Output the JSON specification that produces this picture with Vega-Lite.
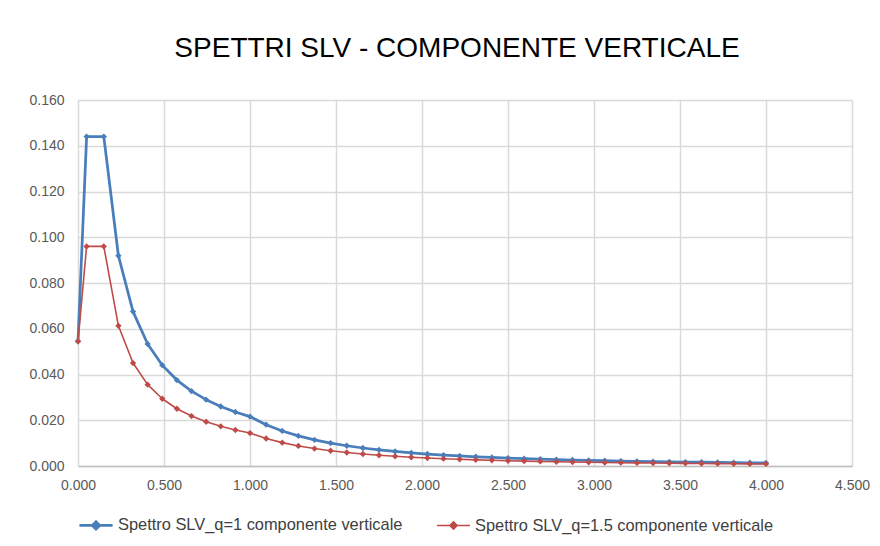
{
  "$schema": "https://vega.github.io/schema/vega-lite/v6.json",
  "width": 774,
  "height": 366,
  "autosize": {"type": "none"},
  "padding": {"left": 78, "top": 100, "right": 28, "bottom": 80},
  "background": "#ffffff",
  "title": {
    "text": "SPETTRI SLV - COMPONENTE VERTICALE",
    "font": "Liberation Sans",
    "fontSize": 28,
    "fontWeight": "normal",
    "color": "#000000",
    "anchor": "middle",
    "dx": -8,
    "offset": 30
  },
  "data": {
    "values": [
      {"T": 0, "q1": 0.0545, "q15": 0.0545},
      {"T": 0.05, "q1": 0.144, "q15": 0.096},
      {"T": 0.15, "q1": 0.144, "q15": 0.096},
      {"T": 0.235, "q1": 0.09191, "q15": 0.06128},
      {"T": 0.32, "q1": 0.0675, "q15": 0.045},
      {"T": 0.405, "q1": 0.05333, "q15": 0.03556},
      {"T": 0.49, "q1": 0.04408, "q15": 0.02939},
      {"T": 0.575, "q1": 0.03757, "q15": 0.02504},
      {"T": 0.66, "q1": 0.03273, "q15": 0.02182},
      {"T": 0.745, "q1": 0.02899, "q15": 0.01933},
      {"T": 0.83, "q1": 0.02602, "q15": 0.01735},
      {"T": 0.915, "q1": 0.02361, "q15": 0.01574},
      {"T": 1.0, "q1": 0.0216, "q15": 0.0144},
      {"T": 1.09375, "q1": 0.018056, "q15": 0.012037},
      {"T": 1.1875, "q1": 0.015317, "q15": 0.010212},
      {"T": 1.28125, "q1": 0.013158, "q15": 0.008772},
      {"T": 1.375, "q1": 0.011425, "q15": 0.007617},
      {"T": 1.46875, "q1": 0.010013, "q15": 0.006675},
      {"T": 1.5625, "q1": 0.008847, "q15": 0.005898},
      {"T": 1.65625, "q1": 0.007874, "q15": 0.005249},
      {"T": 1.75, "q1": 0.007053, "q15": 0.004702},
      {"T": 1.84375, "q1": 0.006354, "q15": 0.004236},
      {"T": 1.9375, "q1": 0.005754, "q15": 0.003836},
      {"T": 2.03125, "q1": 0.005235, "q15": 0.00349},
      {"T": 2.125, "q1": 0.004783, "q15": 0.003189},
      {"T": 2.21875, "q1": 0.004388, "q15": 0.002925},
      {"T": 2.3125, "q1": 0.004039, "q15": 0.002693},
      {"T": 2.40625, "q1": 0.003731, "q15": 0.002487},
      {"T": 2.5, "q1": 0.003456, "q15": 0.002304},
      {"T": 2.59375, "q1": 0.003211, "q15": 0.00214},
      {"T": 2.6875, "q1": 0.002991, "q15": 0.001994},
      {"T": 2.78125, "q1": 0.002792, "q15": 0.001862},
      {"T": 2.875, "q1": 0.002613, "q15": 0.001742},
      {"T": 2.96875, "q1": 0.002451, "q15": 0.001634},
      {"T": 3.0625, "q1": 0.002303, "q15": 0.001535},
      {"T": 3.15625, "q1": 0.002168, "q15": 0.001446},
      {"T": 3.25, "q1": 0.002045, "q15": 0.001363},
      {"T": 3.34375, "q1": 0.001932, "q15": 0.001288},
      {"T": 3.4375, "q1": 0.001828, "q15": 0.001219},
      {"T": 3.53125, "q1": 0.001732, "q15": 0.001155},
      {"T": 3.625, "q1": 0.001644, "q15": 0.001096},
      {"T": 3.71875, "q1": 0.001562, "q15": 0.001041},
      {"T": 3.8125, "q1": 0.001486, "q15": 0.000991},
      {"T": 3.90625, "q1": 0.001416, "q15": 0.000944},
      {"T": 4.0, "q1": 0.00135, "q15": 0.0009}
    ]
  },
  "transform": [{"fold": ["q1", "q15"], "as": ["serie", "Sa"]}],
  "mark": {
    "type": "line",
    "point": {"shape": "diamond", "size": 40, "filled": true},
    "strokeJoin": "round"
  },
  "encoding": {
    "x": {
      "field": "T",
      "type": "quantitative",
      "scale": {"domain": [0, 4.5], "nice": false},
      "axis": {
        "title": null,
        "values": [0, 0.5, 1, 1.5, 2, 2.5, 3, 3.5, 4, 4.5],
        "format": ".3f",
        "labelFont": "Liberation Sans",
        "labelFontSize": 14,
        "labelColor": "#595959",
        "labelPadding": 12,
        "ticks": false,
        "domainColor": "#bfbfbf",
        "domainWidth": 1.5,
        "gridColor": "#d9d9d9",
        "gridWidth": 1.5,
        "labelFlush": false
      }
    },
    "y": {
      "field": "Sa",
      "type": "quantitative",
      "scale": {"domain": [0, 0.16], "nice": false},
      "axis": {
        "title": null,
        "values": [0, 0.02, 0.04, 0.06, 0.08, 0.1, 0.12, 0.14, 0.16],
        "format": ".3f",
        "labelFont": "Liberation Sans",
        "labelFontSize": 14,
        "labelColor": "#595959",
        "labelPadding": 14,
        "ticks": false,
        "domain": false,
        "gridColor": "#d9d9d9",
        "gridWidth": 1.5
      }
    },
    "color": {
      "field": "serie",
      "type": "nominal",
      "scale": {"domain": ["q1", "q15"], "range": ["#4a7ebb", "#be4b48"]},
      "legend": {
        "title": null,
        "orient": "bottom",
        "direction": "horizontal",
        "offset": 15,
        "labelExpr": "datum.value == 'q1' ? 'Spettro SLV_q=1 componente verticale' : 'Spettro SLV_q=1.5 componente verticale'",
        "labelFont": "Liberation Sans",
        "labelFontSize": 16.4,
        "labelLimit": 0,
        "labelColor": "#404040",
        "symbolType": "M-1,0H1M-0.22,0L0,-0.22L0.22,0L0,0.22Z",
        "symbolSize": 1100,
        "symbolStrokeWidth": 2,
        "columnPadding": 30,
        "labelOffset": 4
      }
    },
    "strokeWidth": {
      "field": "serie",
      "type": "nominal",
      "scale": {"domain": ["q1", "q15"], "range": [2.75, 1.6]},
      "legend": null
    }
  },
  "config": {"view": {"stroke": null}}
}
